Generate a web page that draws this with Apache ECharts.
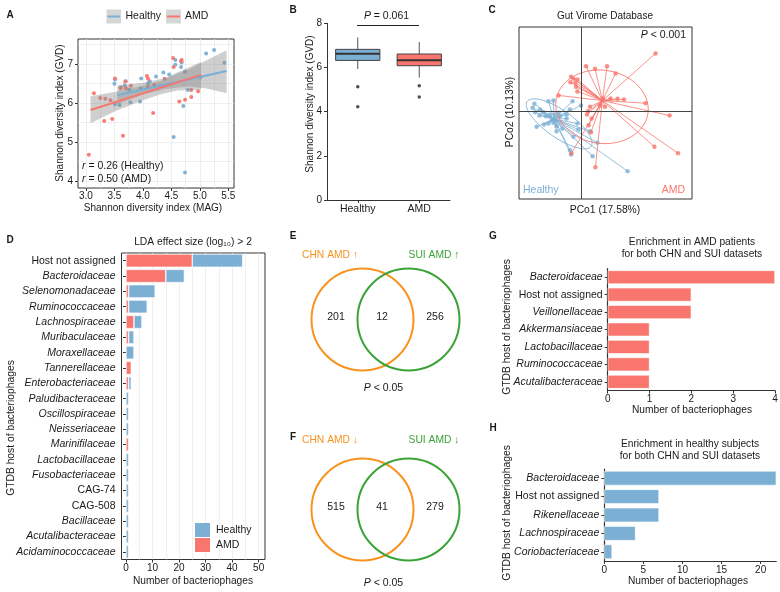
<!DOCTYPE html>
<html>
<head>
<meta charset="utf-8">
<script src="https://cdn.jsdelivr.net/npm/echarts@6/dist/echarts.min.js"></script>
<style>
  html, body { margin: 0; padding: 0; background: #fff; }
  #main { width: 780px; height: 592px; }
</style>
</head>
<body>
<div id="main"></div>
<script>
const FONT = '"Liberation Sans", Arial, Helvetica, sans-serif';
const RED = '#F8766D';
const BLUE = '#7BAFD4';
const ORANGE = '#F7931E';
const GREEN = '#3AA335';
const INK = '#1a1a1a';

// ---- A: GVD vs MAG shannon diversity ----
const healthyA = [
  [5.11, 7.27], [5.25, 7.36], [5.43, 7.03], [4.57, 7.10], [4.57, 6.98], [4.68, 7.04], [4.67, 6.92], [4.74, 6.80],
  [4.36, 6.78], [4.46, 6.73], [4.23, 6.68], [3.97, 6.63], [4.09, 6.50], [4.12, 6.56], [3.70, 6.56], [3.68, 6.45],
  [3.51, 6.60], [3.50, 6.49], [3.76, 6.34], [3.96, 6.37], [3.61, 6.40], [5.01, 6.66], [4.79, 6.33], [4.71, 5.92],
  [3.51, 5.97], [3.59, 5.95], [3.78, 6.02], [3.95, 6.04], [4.54, 5.13], [4.74, 4.22], [4.31, 6.43]
];
const amdA = [
  [3.05, 4.67], [3.14, 6.25], [3.25, 6.13], [3.34, 6.11], [3.43, 6.07], [3.32, 5.54], [3.46, 5.59], [3.65, 5.16],
  [3.51, 6.63], [3.61, 6.38], [3.70, 6.38], [4.07, 6.69], [4.09, 6.62], [4.18, 5.74], [4.53, 7.15], [4.68, 7.10],
  [4.67, 7.07], [4.54, 6.92], [4.64, 6.04], [4.74, 6.08], [4.85, 6.15], [4.85, 6.33], [4.97, 6.30], [4.38, 6.62],
  [3.79, 6.44], [3.69, 6.55], [4.09, 6.40], [4.20, 6.46]
];
const healthyFit = [[3.55, 6.20], [5.47, 6.82]];
const amdFit = [[3.08, 5.82], [5.02, 6.72]];
// [x, lower, upper]
const healthyBand = [[3.55, 5.97, 6.45], [4.0, 6.22, 6.52], [4.4, 6.36, 6.64], [4.8, 6.42, 6.86], [5.1, 6.38, 7.08], [5.47, 6.25, 7.35]];
const amdBand = [[3.08, 5.48, 6.17], [3.5, 5.78, 6.28], [4.0, 6.07, 6.44], [4.3, 6.22, 6.56], [4.6, 6.32, 6.78], [5.02, 6.34, 7.05]];
const aTicksX = [3.0, 3.5, 4.0, 4.5, 5.0, 5.5];
const aTicksY = [4, 5, 6, 7];
const aGridX = [3.0, 3.25, 3.5, 3.75, 4.0, 4.25, 4.5, 4.75, 5.0, 5.25, 5.5];
const aGridY = [4.0, 4.5, 5.0, 5.5, 6.0, 6.5, 7.0, 7.5];

// ---- B: boxplot ----
const boxGroups = ['Healthy', 'AMD'];
// low whisker, Q1, median, Q3, high whisker
const boxStats = [[5.93, 6.32, 6.62, 6.82, 7.36], [5.54, 6.08, 6.33, 6.61, 7.15]];
const boxOutliers = [[0, 5.13], [0, 4.22], [1, 5.17], [1, 4.66]];

// ---- C: PCoA ----
const healthyC = [
  [-0.163, 0.049], [-0.138, 0.053], [-0.233, 0.036], [-0.242, 0.016], [-0.205, 0.008], [-0.230, -0.006],
  [-0.188, -0.006], [-0.208, -0.023], [-0.175, -0.026], [-0.155, -0.018], [-0.130, -0.018], [-0.113, -0.009],
  [-0.105, -0.026], [-0.072, -0.018], [-0.042, 0.049], [0.000, 0.028], [-0.055, 0.008], [-0.072, -0.038],
  [-0.222, -0.079], [-0.185, -0.068], [-0.122, -0.101], [-0.122, -0.076], [-0.093, -0.089], [-0.013, -0.093],
  [-0.018, -0.063], [-0.038, -0.129], [0.045, -0.101], [0.082, -0.159], [-0.055, -0.196], [-0.050, -0.218],
  [0.058, -0.226], [0.233, -0.301], [-0.147, -0.046], [-0.163, -0.063], [-0.138, -0.059]
];
const amdC = [
  [0.373, 0.288], [0.025, 0.224], [0.070, 0.211], [0.130, 0.224], [0.173, 0.188], [-0.050, 0.171],
  [-0.038, 0.163], [-0.018, 0.158], [-0.053, 0.144], [-0.028, 0.141], [-0.025, 0.121], [-0.018, 0.098],
  [-0.112, 0.078], [0.110, 0.063], [0.148, 0.063], [0.183, 0.061], [0.215, 0.058], [0.323, 0.039],
  [0.120, 0.021], [0.045, 0.021], [0.035, -0.001], [0.030, -0.018], [0.053, -0.038], [0.038, -0.071],
  [0.050, -0.106], [0.443, -0.023], [0.367, -0.179], [0.485, -0.211], [-0.048, -0.211], [0.072, -0.281],
  [0.095, 0.028]
];
const healthyCentroid = [-0.135, -0.040];
const amdCentroid = [0.107, 0.052];
// centre x, centre y, semi axis a, semi axis b, angle (deg)
const healthyEllipse = [-0.109, -0.064, 0.195, 0.068, -35];
const amdEllipse = [0.105, 0.021, 0.232, 0.183, -8];

// ---- D: LDA ----
const ldaHosts = ['Host not assigned', 'Bacteroidaceae', 'Selenomonadaceae', 'Ruminococcaceae', 'Lachnospiraceae',
  'Muribaculaceae', 'Moraxellaceae', 'Tannerellaceae', 'Enterobacteriaceae', 'Paludibacteraceae', 'Oscillospiraceae',
  'Neisseriaceae', 'Marinifilaceae', 'Lactobacillaceae', 'Fusobacteriaceae', 'CAG-74', 'CAG-508', 'Bacillaceae',
  'Acutalibacteraceae', 'Acidaminococcaceae'];
const ldaAMD = [25, 15, 1, 1, 3, 1, 0, 2, 1, 0, 0, 0, 1, 0, 0, 0, 0, 0, 0, 0];
const ldaHealthy = [19, 7, 10, 7, 3, 2, 3, 0, 1, 1, 1, 1, 0, 1, 1, 1, 1, 1, 1, 1];
const dTicks = [0, 10, 20, 30, 40, 50];
const dGrid = [0, 5, 10, 15, 20, 25, 30, 35, 40, 45, 50];
const plainNames = ['Host not assigned', 'CAG-74', 'CAG-508'];

// ---- E / F: Venn counts (CHN only, shared, SUI only) ----
const vennUp = [201, 12, 256];
const vennDown = [515, 41, 279];

// ---- G / H ----
const gHosts = ['Bacteroidaceae', 'Host not assigned', 'Veillonellaceae', 'Akkermansiaceae', 'Lactobacillaceae', 'Ruminococcaceae', 'Acutalibacteraceae'];
const gValues = [4, 2, 2, 1, 1, 1, 1];
const hHosts = ['Bacteroidaceae', 'Host not assigned', 'Rikenellaceae', 'Lachnospiraceae', 'Coriobacteriaceae'];
const hValues = [22, 7, 7, 4, 1];
const hTicks = [0, 5, 10, 15, 20];

const labelRich = {
  n: { fontSize: 10.5, fontFamily: FONT, color: INK },
  i: { fontSize: 10.5, fontFamily: FONT, color: INK, fontStyle: 'italic' }
};
const hostFormatter = v => plainNames.indexOf(v) >= 0 ? '{n|' + v + '}' : '{i|' + v + '}';
const tickLabel = { color: INK, fontSize: 10, fontFamily: FONT };
// empty stack segments are left out instead of drawn as zero-width bars
const skipZero = arr => arr.map(v => (v === 0 ? null : v));

function txt(x, y, text, o) {
  o = o || {};
  return {
    type: 'text', x: x, y: y, rotation: o.rot || 0, silent: true, z: 100,
    style: {
      text: text, fill: o.color || INK, fontSize: o.size || 10, fontFamily: FONT,
      fontStyle: o.italic ? 'italic' : 'normal', fontWeight: o.bold ? 'bold' : 'normal',
      textAlign: o.align || 'center', textVerticalAlign: 'middle',
      rich: o.rich
    }
  };
}
const pRich = { i: { fontStyle: 'italic', fontSize: 10.5, fontFamily: FONT, fill: INK } };

function bandSeries(band) {
  return {
    type: 'custom', xAxisIndex: 0, yAxisIndex: 0, z: 3, silent: true,
    data: band,
    renderItem: function (params, api) {
      if (params.dataIndex !== 0) return null;
      const up = band.map(d => api.coord([d[0], d[2]]));
      const lo = band.slice().reverse().map(d => api.coord([d[0], d[1]]));
      return { type: 'polygon', shape: { points: up.concat(lo) }, style: { fill: 'rgba(140,140,140,0.42)' } };
    }
  };
}

function ellipseSeries(e, color) {
  return {
    type: 'custom', xAxisIndex: 2, yAxisIndex: 2, z: 4, silent: true,
    data: [e],
    renderItem: function (params, api) {
      const c = api.coord([api.value(0), api.value(1)]);
      const rx = api.size([api.value(2), 0])[0];
      const ry = api.size([0, api.value(3)])[1];
      const t = -api.value(4) * Math.PI / 180;
      const pts = [];
      for (let k = 0; k < 90; k++) {
        const a = k / 90 * Math.PI * 2;
        const px = rx * Math.cos(a), py = ry * Math.sin(a);
        pts.push([c[0] + px * Math.cos(t) - py * Math.sin(t), c[1] + px * Math.sin(t) + py * Math.cos(t)]);
      }
      return { type: 'polygon', shape: { points: pts }, style: { fill: 'none', stroke: color, lineWidth: 0.9 } };
    }
  };
}

function spokes(points, centre) {
  return points.map(p => ({ coords: [centre, p] }));
}

const chart = echarts.init(document.getElementById('main'), null, { renderer: 'canvas' });

const frame = { show: true, borderColor: '#333', borderWidth: 1, backgroundColor: 'transparent', outerBoundsMode: 'none', containLabel: false };
const plain = { outerBoundsMode: 'none', containLabel: false };

const venn = (cy, counts) => [
  { type: 'circle', z: 100, shape: { cx: 362.5, cy: cy, r: 51 }, style: { fill: 'none', stroke: ORANGE, lineWidth: 2 }, silent: true },
  { type: 'circle', z: 100, shape: { cx: 408.5, cy: cy, r: 51 }, style: { fill: 'none', stroke: GREEN, lineWidth: 2 }, silent: true },
  txt(336, cy - 2, String(counts[0]), { size: 10.5 }),
  txt(382, cy - 2, String(counts[1]), { size: 10.5 }),
  txt(435, cy - 2, String(counts[2]), { size: 10.5 })
];

chart.setOption({
  animation: false,
  textStyle: { fontFamily: FONT },
  grid: [
    Object.assign({ left: 78, top: 39, width: 156, height: 149 }, frame),
    Object.assign({ left: 327, top: 23.3, width: 123, height: 176.7 }, plain),
    Object.assign({ left: 519, top: 27, width: 173, height: 172 }, frame),
    Object.assign({ left: 121.5, top: 253, width: 143.5, height: 306.5 }, frame),
    Object.assign({ left: 607.7, top: 268.5, width: 167.3, height: 122 }, plain),
    Object.assign({ left: 604.3, top: 469, width: 172, height: 92 }, plain)
  ],
  xAxis: [
    { type: 'value', gridIndex: 0, min: 2.86, max: 5.6, axisLine: { show: false },
      axisTick: { show: true, length: 3, customValues: aTicksX, lineStyle: { color: '#333' } },
      axisLabel: Object.assign({ customValues: aTicksX, margin: 3, formatter: v => v.toFixed(1) }, tickLabel),
      splitLine: { show: false } },
    { type: 'category', gridIndex: 1, data: boxGroups,
      axisLine: { show: true, lineStyle: { color: '#333', width: 1 } },
      axisTick: { show: true, length: 3, alignWithLabel: true, lineStyle: { color: '#333' } },
      axisLabel: { margin: 4, fontSize: 10.5, color: INK, fontFamily: FONT },
      splitLine: { show: false } },
    { type: 'value', gridIndex: 2, min: -0.31, max: 0.555, axisLine: { show: false }, axisTick: { show: false },
      axisLabel: { show: false }, splitLine: { show: false } },
    { type: 'value', gridIndex: 3, min: -1.7, max: 52.4, axisLine: { show: false },
      axisTick: { show: true, length: 3, customValues: dTicks, lineStyle: { color: '#333' } },
      axisLabel: Object.assign({ customValues: dTicks, margin: 4 }, tickLabel),
      splitLine: { show: false } },
    { type: 'value', gridIndex: 4, min: 0, max: 4, interval: 1,
      axisLine: { show: true, lineStyle: { color: '#333', width: 1.2 } },
      axisTick: { show: true, length: 3, lineStyle: { color: '#333' } },
      axisLabel: Object.assign({ margin: 4 }, tickLabel), splitLine: { show: false } },
    { type: 'value', gridIndex: 5, min: 0, max: 22,
      axisLine: { show: true, lineStyle: { color: '#333', width: 1.2 } },
      axisTick: { show: true, length: 3, customValues: hTicks, lineStyle: { color: '#333' } },
      axisLabel: Object.assign({ customValues: hTicks, margin: 4 }, tickLabel), splitLine: { show: false } }
  ],
  yAxis: [
    { type: 'value', gridIndex: 0, min: 3.82, max: 7.64, axisLine: { show: false },
      axisTick: { show: true, length: 3, customValues: aTicksY, lineStyle: { color: '#333' } },
      axisLabel: Object.assign({ customValues: aTicksY, margin: 5 }, tickLabel),
      splitLine: { show: false } },
    { type: 'value', gridIndex: 1, min: 0, max: 8, interval: 2,
      axisLine: { show: true, lineStyle: { color: '#333', width: 1 } },
      axisTick: { show: true, length: 3, lineStyle: { color: '#333' } },
      axisLabel: Object.assign({ margin: 5 }, tickLabel), splitLine: { show: false } },
    { type: 'value', gridIndex: 2, min: -0.44, max: 0.42, axisLine: { show: false }, axisTick: { show: false },
      axisLabel: { show: false }, splitLine: { show: false } },
    { type: 'category', gridIndex: 3, data: ldaHosts, inverse: true, axisLine: { show: false },
      axisTick: { show: true, length: 3, alignWithLabel: true, interval: 0, lineStyle: { color: '#333' } },
      axisLabel: { interval: 0, margin: 6, formatter: hostFormatter, rich: labelRich }, splitLine: { show: false } },
    { type: 'category', gridIndex: 4, data: gHosts, inverse: true,
      axisLine: { show: true, lineStyle: { color: '#333', width: 1.2 } },
      axisTick: { show: true, length: 3, alignWithLabel: true, interval: 0, lineStyle: { color: '#333' } },
      axisLabel: { interval: 0, margin: 5, formatter: hostFormatter, rich: labelRich }, splitLine: { show: false } },
    { type: 'category', gridIndex: 5, data: hHosts, inverse: true,
      axisLine: { show: true, lineStyle: { color: '#333', width: 1.2 } },
      axisTick: { show: true, length: 3, alignWithLabel: true, interval: 0, lineStyle: { color: '#333' } },
      axisLabel: { interval: 0, margin: 5, formatter: hostFormatter, rich: labelRich }, splitLine: { show: false } }
  ],
  series: [
    // A
    { type: 'scatter', xAxisIndex: 0, yAxisIndex: 0, data: [], z: 0, silent: true,
      markLine: { silent: true, symbol: 'none', label: { show: false }, animation: false, z: 0,
        lineStyle: { color: '#ebebeb', width: 0.8, type: 'solid' },
        data: aGridX.map(v => ({ xAxis: v })).concat(aGridY.map(v => ({ yAxis: v }))) } },
    { type: 'scatter', name: 'Healthy', xAxisIndex: 0, yAxisIndex: 0, data: healthyA, symbolSize: 4, z: 2,
      itemStyle: { color: BLUE, opacity: 0.95 } },
    { type: 'scatter', name: 'AMD', xAxisIndex: 0, yAxisIndex: 0, data: amdA, symbolSize: 4, z: 2,
      itemStyle: { color: RED, opacity: 0.95 } },
    bandSeries(healthyBand),
    bandSeries(amdBand),
    { type: 'line', xAxisIndex: 0, yAxisIndex: 0, data: healthyFit, showSymbol: false, z: 5,
      lineStyle: { color: BLUE, width: 2 } },
    { type: 'line', xAxisIndex: 0, yAxisIndex: 0, data: amdFit, showSymbol: false, z: 5,
      lineStyle: { color: RED, width: 2 } },
    // B
    { type: 'custom', xAxisIndex: 1, yAxisIndex: 1, z: 2,
      data: boxStats.map((s, i) => [i].concat(s)),
      encode: { x: 0, y: [1, 2, 3, 4, 5] },
      renderItem: function (params, api) {
        const i = api.value(0);
        const w = api.size([1, 0])[0] * 0.72;
        const lo = api.coord([i, api.value(1)]);
        const q1 = api.coord([i, api.value(2)]);
        const md = api.coord([i, api.value(3)]);
        const q3 = api.coord([i, api.value(4)]);
        const hi = api.coord([i, api.value(5)]);
        const x = md[0];
        return { type: 'group', children: [
          { type: 'line', shape: { x1: x, y1: lo[1], x2: x, y2: q1[1] }, style: { stroke: '#555', lineWidth: 1 } },
          { type: 'line', shape: { x1: x, y1: q3[1], x2: x, y2: hi[1] }, style: { stroke: '#555', lineWidth: 1 } },
          { type: 'rect', shape: { x: x - w / 2, y: q3[1], width: w, height: q1[1] - q3[1] },
            style: { fill: i === 0 ? BLUE : RED, stroke: '#444', lineWidth: 1 } },
          { type: 'line', shape: { x1: x - w / 2, y1: md[1], x2: x + w / 2, y2: md[1] }, style: { stroke: '#333', lineWidth: 2 } }
        ] };
      } },
    { type: 'scatter', xAxisIndex: 1, yAxisIndex: 1, data: boxOutliers, symbolSize: 3.5, z: 3,
      itemStyle: { color: '#222' } },
    // C
    { type: 'lines', coordinateSystem: 'cartesian2d', xAxisIndex: 2, yAxisIndex: 2, z: 1, silent: true,
      data: spokes(healthyC, healthyCentroid), lineStyle: { color: BLUE, width: 0.8, opacity: 1 } },
    { type: 'lines', coordinateSystem: 'cartesian2d', xAxisIndex: 2, yAxisIndex: 2, z: 1, silent: true,
      data: spokes(amdC, amdCentroid), lineStyle: { color: RED, width: 0.8, opacity: 1 } },
    { type: 'scatter', xAxisIndex: 2, yAxisIndex: 2, data: healthyC, symbolSize: 4.5, z: 2,
      itemStyle: { color: BLUE },
      markLine: { silent: true, symbol: 'none', label: { show: false }, animation: false,
        lineStyle: { color: '#444', width: 1, type: 'solid' }, data: [{ xAxis: 0 }, { yAxis: 0 }] } },
    { type: 'scatter', xAxisIndex: 2, yAxisIndex: 2, data: amdC, symbolSize: 4.5, z: 2,
      itemStyle: { color: RED } },
    ellipseSeries(healthyEllipse, BLUE),
    ellipseSeries(amdEllipse, RED),
    // D
    { type: 'scatter', xAxisIndex: 3, yAxisIndex: 3, data: [], z: 0, silent: true,
      markLine: { silent: true, symbol: 'none', label: { show: false }, animation: false, z: 0,
        lineStyle: { color: '#ebebeb', width: 0.8, type: 'solid' }, data: dGrid.map(v => ({ xAxis: v })) } },
    { type: 'bar', name: 'AMD', xAxisIndex: 3, yAxisIndex: 3, stack: 'lda', data: skipZero(ldaAMD), barWidth: '86%', z: 6,
      itemStyle: { color: RED, borderColor: '#fff', borderWidth: 0.6 } },
    { type: 'bar', name: 'Healthy', xAxisIndex: 3, yAxisIndex: 3, stack: 'lda', data: skipZero(ldaHealthy), barWidth: '86%', z: 6,
      itemStyle: { color: BLUE, borderColor: '#fff', borderWidth: 0.6 } },
    // G
    { type: 'bar', xAxisIndex: 4, yAxisIndex: 4, data: gValues, barWidth: '79%',
      itemStyle: { color: RED, borderColor: '#fff', borderWidth: 0.6 } },
    // H
    { type: 'bar', xAxisIndex: 5, yAxisIndex: 5, data: hValues, barWidth: '79%',
      itemStyle: { color: BLUE, borderColor: '#fff', borderWidth: 0.6 } }
  ],
  graphic: [].concat(
    [
      // panel letters
      txt(10, 15, 'A', { bold: true, size: 10 }),
      txt(293, 10, 'B', { bold: true, size: 10 }),
      txt(492, 10, 'C', { bold: true, size: 10 }),
      txt(10, 240, 'D', { bold: true, size: 10 }),
      txt(293, 236, 'E', { bold: true, size: 10 }),
      txt(293, 437, 'F', { bold: true, size: 10 }),
      txt(493, 236, 'G', { bold: true, size: 10 }),
      txt(493, 428, 'H', { bold: true, size: 10 }),
      // A legend
      { type: 'rect', z: 100, shape: { x: 106.5, y: 9.5, width: 14.5, height: 14 }, style: { fill: '#d6d6d6' }, silent: true },
      { type: 'line', z: 101, shape: { x1: 107.5, y1: 16.5, x2: 120, y2: 16.5 }, style: { stroke: BLUE, lineWidth: 2 }, silent: true },
      txt(125.5, 16.5, 'Healthy', { align: 'left', size: 10.5 }),
      { type: 'rect', z: 100, shape: { x: 166, y: 9.5, width: 15, height: 14 }, style: { fill: '#d6d6d6' }, silent: true },
      { type: 'line', z: 101, shape: { x1: 167, y1: 16.5, x2: 180, y2: 16.5 }, style: { stroke: RED, lineWidth: 2 }, silent: true },
      txt(185, 16.5, 'AMD', { align: 'left', size: 10.5 }),
      // A texts
      txt(82, 166.5, '{i|r} = 0.26 (Healthy)', { align: 'left', size: 10.5, rich: pRich }),
      txt(82, 179, '{i|r} = 0.50 (AMD)', { align: 'left', size: 10.5, rich: pRich }),
      txt(153, 208.5, 'Shannon diversity index (MAG)', { size: 10 }),
      txt(60, 113, 'Shannon diversity index (GVD)', { size: 10, rot: Math.PI / 2 }),
      // B texts
      { type: 'line', z: 100, shape: { x1: 357, y1: 25.5, x2: 419, y2: 25.5 }, style: { stroke: '#222', lineWidth: 1 }, silent: true },
      txt(386.5, 16.5, '{i|P} = 0.061', { size: 10.5, rich: pRich }),
      txt(310, 104, 'Shannon diversity index (GVD)', { size: 10, rot: Math.PI / 2 }),
      // C texts
      txt(605, 16, 'Gut Virome Database', { size: 10 }),
      txt(686, 35, '{i|P} < 0.001', { size: 10.5, align: 'right', rich: pRich }),
      txt(523, 190.5, 'Healthy', { size: 10.5, align: 'left', color: BLUE }),
      txt(685, 190.5, 'AMD', { size: 10.5, align: 'right', color: RED }),
      txt(605, 210, 'PCo1 (17.58%)', { size: 10.3 }),
      txt(510, 112, 'PCo2 (10.13%)', { size: 10.3, rot: Math.PI / 2 }),
      // D texts
      txt(193, 242, 'LDA effect size (log\u2081\u2080) > 2', { size: 10.3 }),
      txt(11, 428, 'GTDB host of bacteriophages', { size: 10.3, rot: Math.PI / 2 }),
      txt(193, 581, 'Number of bacteriophages', { size: 10.2 }),
      { type: 'rect', z: 100, shape: { x: 195, y: 523, width: 15, height: 14 }, style: { fill: BLUE }, silent: true },
      { type: 'rect', z: 100, shape: { x: 195, y: 538, width: 15, height: 14 }, style: { fill: RED }, silent: true },
      txt(216, 530.5, 'Healthy', { align: 'left', size: 10.5 }),
      txt(216, 545.5, 'AMD', { align: 'left', size: 10.5 }),
      // E / F texts
      txt(330, 255, 'CHN AMD \u2191', { size: 10.3, color: ORANGE }),
      txt(434, 255, 'SUI AMD \u2191', { size: 10.3, color: GREEN }),
      txt(383.5, 388.5, '{i|P} < 0.05', { size: 10.5, rich: pRich }),
      txt(330, 440, 'CHN AMD \u2193', { size: 10.3, color: ORANGE }),
      txt(434, 440, 'SUI AMD \u2193', { size: 10.3, color: GREEN }),
      txt(383.5, 583.5, '{i|P} < 0.05', { size: 10.5, rich: pRich }),
      // G texts
      txt(692, 242, 'Enrichment in AMD patients', { size: 10.2 }),
      txt(692, 254.5, 'for both CHN and SUI datasets', { size: 10.2 }),
      txt(692, 410.5, 'Number of bacteriophages', { size: 10.2 }),
      txt(507, 327, 'GTDB host of bacteriophages', { size: 10.3, rot: Math.PI / 2 }),
      // H texts
      txt(690, 444.5, 'Enrichment in healthy subjects', { size: 10.2 }),
      txt(690, 456, 'for both CHN and SUI datasets', { size: 10.2 }),
      txt(688, 581.5, 'Number of bacteriophages', { size: 10.2 }),
      txt(507, 513, 'GTDB host of bacteriophages', { size: 10.3, rot: Math.PI / 2 })
    ],
    venn(319.5, vennUp),
    venn(509.5, vennDown)
  )
});
</script>
</body>
</html>
